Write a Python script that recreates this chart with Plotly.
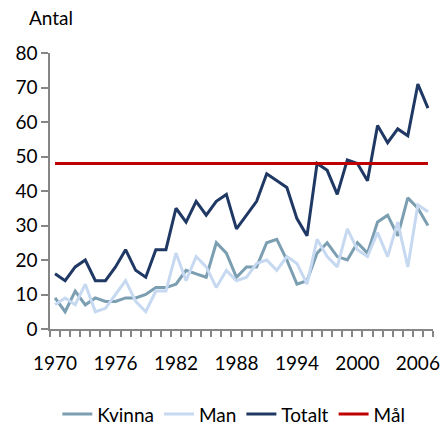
import plotly.graph_objects as go

years = list(range(1970, 2008))
kvinna = [9, 5, 11, 7, 9, 8, 8, 9, 9, 10, 12, 12, 13, 17, 16, 15, 25, 22, 15, 18,
          18, 25, 26, 20, 13, 14, 22, 25, 21, 20, 25, 22, 31, 33, 27, 38, 35, 30]
man = [7, 9, 7, 13, 5, 6, 10, 14, 8, 5, 11, 11, 22, 14, 21, 18, 12, 17, 14, 15,
       19, 20, 17, 21, 19, 13, 26, 21, 18, 29, 23, 21, 28, 21, 31, 18, 36, 34]
totalt = [16, 14, 18, 20, 14, 14, 18, 23, 17, 15, 23, 23, 35, 31, 37, 33, 37, 39, 29, 33,
          37, 45, 43, 41, 32, 27, 48, 46, 39, 49, 48, 43, 59, 54, 58, 56, 71, 64]
mal = [48] * len(years)
tick_years = [1970, 1976, 1982, 1988, 1994, 2000, 2006]
y_ticks = [0, 10, 20, 30, 40, 50, 60, 70, 80]

FONT = "Lato, Liberation Sans, Arial, sans-serif"
fig = go.Figure()
series = [
    ("Kvinna", kvinna, "#7B9EB1"),
    ("Man", man, "#C6D9F1"),
    ("Totalt", totalt, "#1F3864"),
    ("Mål", mal, "#C00000"),
]
for name, vals, col in series:
    fig.add_trace(go.Scatter(x=years, y=vals, name=name, mode="lines",
                             line=dict(color=col, width=3)))

fig.update_layout(
    width=441, height=425,
    margin=dict(l=50, r=8, t=53, b=96, autoexpand=False),
    plot_bgcolor="white", paper_bgcolor="white",
    font=dict(family=FONT, size=19, color="#000000"),
    showlegend=True,
    legend=dict(orientation="h", x=0.48, xanchor="center", y=-0.24, yanchor="top",
                font=dict(size=19), itemwidth=30, tracegroupgap=0),
    annotations=[dict(text="Antal", xref="paper", yref="paper",
                      x=-0.06, y=1.13, xanchor="left", yanchor="middle",
                      showarrow=False, font=dict(size=19))],
)
fig.update_xaxes(range=[1969.5, 2007.5], tickvals=tick_years, ticks="", showgrid=False,
                 showline=True, linecolor="#868686", linewidth=1.5, zeroline=False,
                 tickfont=dict(size=19), ticklabelstandoff=16,
                 minor=dict(ticks="outside", ticklen=6, tickcolor="#868686", tickwidth=1.5,
                            tick0=1969.5, dtick=1, showgrid=False))
fig.update_yaxes(range=[0, 80], tickvals=y_ticks, ticks="outside", ticklen=7, tickwidth=1.5,
                 tickcolor="#868686", showgrid=False, showline=True, linecolor="#868686",
                 linewidth=1.5, zeroline=False, tickfont=dict(size=19), ticksuffix="\u2002")
fig.write_html("out.html", config={"displayModeBar": False},
               post_script="document.body.style.margin='0';document.body.style.overflow='hidden';")
